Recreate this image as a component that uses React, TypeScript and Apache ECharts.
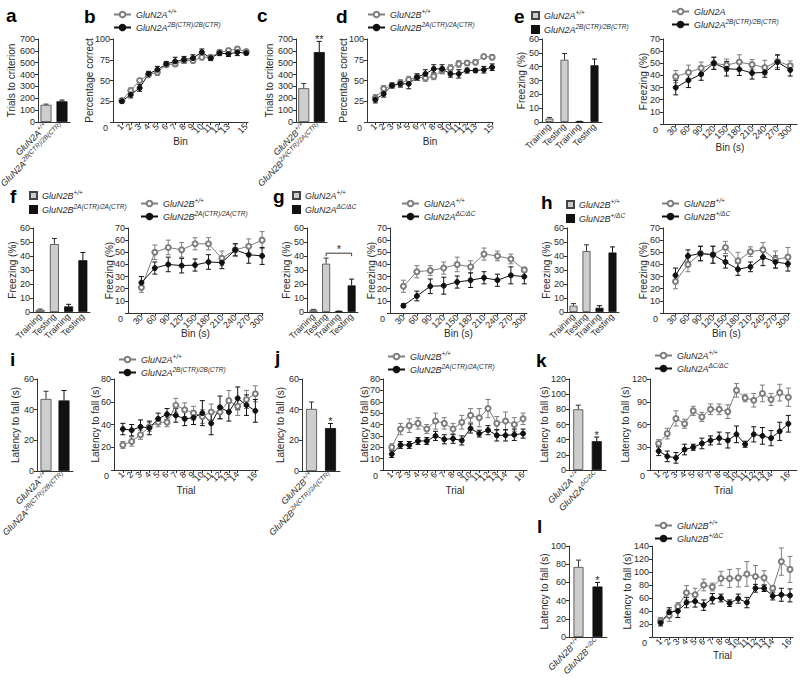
import React, { useEffect, useRef } from 'react';
import * as echarts from 'echarts';

const FONT = '"Liberation Sans", Arial, Helvetica, sans-serif';

// ---------------- DATA ----------------
// a
const aCategories = ['GluN2A^+/+', 'GluN2A^2B(CTR)/2B(CTR)'];
const aWT = [145];
const aWTErr = [6];
const aMut = [175];
const aMutErr = [10];

// b
const bBins = [1, 2, 3, 4, 5, 6, 7, 8, 9, 10, 11, 12, 13, 14, 15];
const bLabels = ['GluN2A^+/+', 'GluN2A^2B(CTR)/2B(CTR)'];
const bWT = [26, 38, 50, 57, 60, 69, 70, 74, 74, 78, 78, 84, 86, 88, 85];
const bWTErr = [2, 3, 2, 3, 4, 3, 3, 3, 3, 3, 3, 3, 2, 3, 2];
const bMut = [25, 33, 41, 58, 63, 70, 73, 75, 77, 84, 77, 83, 82, 84, 83];
const bMutErr = [2, 4, 4, 3, 4, 3, 5, 4, 4, 4, 3, 3, 3, 4, 2];

// c
const cCategories = ['GluN2B^+/+', 'GluN2B^2A(CTR)/2A(CTR)'];
const cWT = [285];
const cWTErr = [40];
const cMut = [590];
const cMutErr = [90];
const cSig = '**';

// d
const dBins = [1, 2, 3, 4, 5, 6, 7, 8, 9, 10, 11, 12, 13, 14, 15];
const dLabels = ['GluN2B^+/+', 'GluN2B^2A(CTR)/2A(CTR)'];
const dWT = [29, 40, 44, 47, 51, 54, 53, 55, 62, 65, 70, 71, 72, 79, 78];
const dWTErr = [4, 4, 3, 4, 4, 4, 4, 4, 4, 4, 4, 3, 3, 2, 3];
const dMut = [27, 34, 44, 46, 46, 54, 58, 64, 64, 58, 58, 62, 62, 63, 66];
const dMutErr = [4, 4, 3, 4, 6, 4, 5, 5, 5, 4, 5, 3, 2, 4, 4];

// e
const freezeCategories = ['Training', 'Testing', 'Training', 'Testing'];
const eBarLabels = ['GluN2A^+/+', 'GluN2A^2B(CTR)/2B(CTR)'];
const eBarWT = [2.5, 45];
const eBarWTErr = [0.8, 4.5];
const eBarMut = [0.3, 41];
const eBarMutErr = [0.2, 4.5];
const secBins = [30, 60, 90, 120, 150, 180, 210, 240, 270, 300];
const eLineLabels = ['GluN2A', 'GluN2A^2B(CTR)/2B(CTR)'];
const eWT = [39, 42.5, 46, 50, 48.5, 51, 49, 46.5, 51.5, 48];
const eWTErr = [5, 6, 5, 5, 5, 6, 4, 6, 5, 4];
const eMut = [30, 36, 41, 50, 45.5, 45, 42, 42.5, 51, 44.5];
const eMutErr = [6, 6, 5, 5, 6, 5, 5, 4, 6, 5];

// f
const fLabels = ['GluN2B^+/+', 'GluN2B^2A(CTR)/2A(CTR)'];
const fBarWT = [1.5, 48.5];
const fBarWTErr = [0.6, 4];
const fBarMut = [4, 37];
const fBarMutErr = [1.5, 5.5];
const fWT = [21, 50, 54, 52, 57, 57, 45, 52, 55, 60];
const fWTErr = [4, 6, 6, 6, 5, 5, 6, 5, 6, 7];
const fMut = [25, 37, 40, 39, 39.5, 42, 41.5, 52, 48, 47];
const fMutErr = [5, 5, 6, 6, 5, 6, 5, 5, 7, 7];

// g
const gLabels = ['GluN2A^+/+', 'GluN2A^ΔC/ΔC'];
const gBarWT = [1.5, 34.5];
const gBarWTErr = [0.4, 4];
const gBarMut = [0.5, 19];
const gBarMutErr = [0.2, 4.5];
const gBracket = { from: 1, to: 3, at: 42, text: '*' };
const gWT = [22, 34, 35, 37, 40, 38, 48.5, 47, 44.5, 35.5];
const gWTErr = [5, 5, 4, 5, 6, 5, 5, 4, 4, 2];
const gMut = [6, 14, 22, 22.5, 25.5, 27, 29, 27, 31, 30];
const gMutErr = [1.5, 4, 6, 7, 5, 6, 5, 5, 7, 6];

// h
const hLabels = ['GluN2B^+/+', 'GluN2B^+/ΔC'];
const hBarWT = [4.5, 43.5];
const hBarWTErr = [1.5, 4.5];
const hBarMut = [3, 42.5];
const hBarMutErr = [1.5, 4];
const hWT = [26, 40, 49, 48, 54, 43, 50.5, 52, 44, 46];
const hWTErr = [6, 6, 6, 7, 5, 7, 4, 6, 7, 8];
const hMut = [31, 47, 49, 48, 42, 36, 38, 46, 42, 40.5];
const hMutErr = [6, 5, 6, 7, 5, 5, 4, 7, 5, 6];

// i
const trials = [1, 2, 3, 4, 5, 6, 7, 8, 9, 10, 11, 12, 13, 14, 15, 16];
const iLabels = ['GluN2A^+/+', 'GluN2A^2B(CTR)/2B(CTR)'];
const iBarWT = [47];
const iBarWTErr = [5];
const iBarMut = [46];
const iBarMutErr = [6.5];
const iWT = [22, 25, 31, 38, 42, 42, 57, 53, 50, 47, 51, 51, 61, 56, 62, 67];
const iWTErr = [3, 4, 4, 4, 4, 4, 6, 6, 6, 6, 7, 6, 9, 8, 8, 7];
const iMut = [36, 35, 38, 37, 45, 49, 48, 45, 46, 50, 41, 55, 51, 63, 57, 52];
const iMutErr = [5, 5, 6, 6, 5, 5, 6, 6, 6, 11, 10, 10, 8, 10, 9, 10];

// j
const jLabels = ['GluN2B^+/+', 'GluN2B^2A(CTR)/2A(CTR)'];
const jBarWT = [40.5];
const jBarWTErr = [4.5];
const jBarMut = [28];
const jBarMutErr = [3];
const jSig = '*';
const jWT = [20, 36, 39, 41, 36, 43, 41, 36, 42, 48, 46, 54, 41, 43, 40, 45];
const jWTErr = [3, 5, 6, 5, 4, 7, 5, 5, 6, 6, 8, 8, 6, 8, 6, 5];
const jMut = [14, 22, 22, 25.5, 25.5, 30, 27, 27.5, 26, 36.5, 32, 35, 30.5, 30.5, 31, 32];
const jMutErr = [3, 3, 3, 3, 3, 4, 4, 4, 4, 4, 3, 4, 5, 5, 5, 4];

// k
const kLabels = ['GluN2A^+/+', 'GluN2A^ΔC/ΔC'];
const kBarWT = [80];
const kBarWTErr = [5.5];
const kBarMut = [38];
const kBarMutErr = [5.5];
const kSig = '*';
const kWT = [35, 48, 68, 61, 78, 70, 80, 80, 77, 105, 95, 92, 101, 93, 102, 96];
const kWTErr = [5, 7, 10, 6, 6, 6, 7, 7, 9, 9, 5, 9, 11, 8, 11, 12];
const kMut = [25, 18, 16, 27, 30, 35, 39, 42, 39, 47, 34, 47, 45, 42, 51, 61];
const kMutErr = [6, 7, 7, 7, 4, 7, 6, 8, 10, 11, 4, 10, 11, 10, 12, 11];

// l
const lLabels = ['GluN2B^+/+', 'GluN2B^+/ΔC'];
const lBarWT = [77];
const lBarWTErr = [7.5];
const lBarMut = [55.5];
const lBarMutErr = [4.5];
const lSig = '*';
const lWT = [25, 33, 47, 68, 65, 80, 77, 90, 90, 91, 97, 93, 91, 75, 116, 104];
const lWTErr = [5, 9, 6, 11, 10, 9, 6, 11, 14, 14, 19, 17, 11, 4, 21, 20];
const lMut = [22, 38, 40, 53, 55, 49, 59, 60, 52, 59, 53, 75, 75, 63, 65, 64];
const lMutErr = [5, 7, 10, 8, 9, 8, 8, 6, 5, 7, 8, 6, 5, 6, 10, 10];

// ---------------- STYLE ----------------
const WT_COLOR = '#7d7d7d';
const MUT_COLOR = '#111111';
const BAR_GRAY = '#cdcdcd';
const AXIS_COLOR = '#333333';
const TEXT = '#2a2a2a';

const RICH: any = {
  i: { fontStyle: 'italic', fontSize: 9, color: TEXT, fontFamily: FONT },
  s: { fontStyle: 'italic', fontSize: 6.5, color: TEXT, fontFamily: FONT, padding: [0, 0, 6, 0] },
  n: { fontSize: 9, color: TEXT, fontFamily: FONT },
  z: { fontSize: 9, color: TEXT, fontFamily: FONT, padding: [12, 2, 0, 0] },
};

function richLabel(label: string): string {
  if (!label.startsWith('GluN')) return `{n|${label}}`;
  const k = label.indexOf('^');
  if (k < 0) return `{i|${label}}`;
  return `{i|${label.slice(0, k)}}{s|${label.slice(k + 1)}}`;
}

const AX_LINE = { show: true, onZero: false, lineStyle: { color: AXIS_COLOR, width: 1 } };
const TICK = { show: true, length: 3, inside: false, lineStyle: { color: AXIS_COLOR, width: 1 } };

function buildOption() {
  const opt: any = {
    animation: false,
    backgroundColor: '#ffffff',
    textStyle: { fontFamily: FONT },
    grid: [],
    xAxis: [],
    yAxis: [],
    series: [],
    legend: [],
    graphic: [],
  };
  const legendText: Record<string, string> = {};

  const addGrid = (r: number[]) => {
    opt.grid.push({ left: r[0], top: r[1], width: r[2], height: r[3], containLabel: false, outerBoundsMode: 'none' });
    return opt.grid.length - 1;
  };

  const makeY = (gi: number, max: number, interval: number, name: string, gap: number, shiftZero: boolean) => ({
    type: 'value', gridIndex: gi, min: 0, max, interval,
    axisLine: AX_LINE, axisTick: TICK, splitLine: { show: false },
    axisLabel: {
      fontSize: 9, color: TEXT, margin: 3, fontFamily: FONT, showMinLabel: true, showMaxLabel: true,
      formatter: (v: number) => (shiftZero && v === 0 ? '{z|0}' : String(v)),
      rich: RICH,
    },
    name, nameLocation: 'middle', nameGap: gap, nameMoveOverlap: false,
    nameTextStyle: { fontSize: 10, color: TEXT, fontFamily: FONT },
  });

  const errorSeries = (gi: number, data: number[][], color: string, both: boolean) => ({
    type: 'custom', xAxisIndex: gi, yAxisIndex: gi, data, encode: { x: 0, y: 1 },
    z: 2, silent: true, clip: false,
    renderItem: (_p: any, api: any) => {
      const x = api.value(0), y = api.value(1), e = api.value(2);
      const hi = api.coord([x, y + e]);
      const lo = api.coord([x, both ? y - e : y]);
      const w = 2.5;
      const st = { stroke: color, lineWidth: 1 };
      const ch: any[] = [
        { type: 'line', shape: { x1: hi[0], y1: hi[1], x2: lo[0], y2: lo[1] }, style: st },
        { type: 'line', shape: { x1: hi[0] - w, y1: hi[1], x2: hi[0] + w, y2: hi[1] }, style: st },
      ];
      if (both) ch.push({ type: 'line', shape: { x1: lo[0] - w, y1: lo[1], x2: lo[0] + w, y2: lo[1] }, style: st });
      return { type: 'group', children: ch };
    },
  });

  const addLegend = (pos: number[], names: string[], isBar: boolean) => {
    opt.legend.push({
      left: pos[0], top: pos[1], orient: 'vertical', padding: 0,
      itemGap: isBar ? 3 : 2, itemWidth: isBar ? 7 : 17, itemHeight: isBar ? 7 : 7,
      icon: isBar ? 'rect' : undefined,
      data: names, selectedMode: false,
      formatter: (n: string) => legendText[n],
      textStyle: { fontSize: 9, color: TEXT, fontFamily: FONT, rich: RICH },
    });
  };

  const linePanel = (p: any) => {
    const gi = addGrid(p.rect);
    opt.xAxis.push({
      type: 'value', gridIndex: gi, min: 0, max: p.xMax,
      axisLine: AX_LINE, axisTick: { ...TICK, customValues: p.xs }, splitLine: { show: false },
      axisLabel: {
        customValues: p.xs, rotate: 45, fontSize: 9, color: TEXT, margin: 3, fontFamily: FONT,
        showMinLabel: true, showMaxLabel: true, hideOverlap: false,
      },
      name: p.xName, nameLocation: 'middle', nameGap: p.xGap, nameMoveOverlap: false,
      nameTextStyle: { fontSize: 10, color: TEXT, fontFamily: FONT },
    });
    opt.yAxis.push(makeY(gi, p.yMax, p.yInterval, p.yName, p.yGap, true));
    const groups = [
      { key: 'wt', vals: p.wt, errs: p.wtErr, color: WT_COLOR, symbol: 'emptyCircle', label: p.labels[0] },
      { key: 'mut', vals: p.mut, errs: p.mutErr, color: MUT_COLOR, symbol: 'circle', label: p.labels[1] },
    ];
    const names: string[] = [];
    for (const g of groups) {
      const name = `${p.id}_${g.key}`;
      names.push(name);
      legendText[name] = richLabel(g.label);
      opt.series.push({
        type: 'line', name, xAxisIndex: gi, yAxisIndex: gi,
        data: p.xs.map((x: number, i: number) => [x, g.vals[i]]),
        symbol: g.symbol, symbolSize: 5, showAllSymbol: true, clip: false,
        lineStyle: { color: g.color, width: 1 },
        itemStyle: { color: g.color, borderColor: g.color, borderWidth: 1 },
        z: 3,
      });
      opt.series.push(errorSeries(gi, p.xs.map((x: number, i: number) => [x, g.vals[i], g.errs[i]]), g.color, true));
    }
    addLegend(p.legendPos, names, false);
  };

  const barPanel = (p: any) => {
    const gi = addGrid(p.rect);
    opt.xAxis.push({
      type: 'category', gridIndex: gi, data: p.cats,
      axisLine: AX_LINE, axisTick: { show: false }, splitLine: { show: false },
      axisLabel: { interval: 0, rotate: 45, margin: 3, formatter: (v: string) => richLabel(v), rich: RICH },
    });
    opt.yAxis.push(makeY(gi, p.yMax, p.yInterval, p.yName, p.yGap, false));
    const n = p.wt.length;
    const wtName = `${p.id}_wt`;
    const mutName = `${p.id}_mut`;
    opt.series.push({
      type: 'bar', name: wtName, xAxisIndex: gi, yAxisIndex: gi,
      data: [...p.wt, ...p.mut.map(() => '-')], barWidth: p.barWidth, barGap: '-100%',
      itemStyle: { color: BAR_GRAY, borderColor: '#444', borderWidth: 0.8 }, z: 2,
    });
    opt.series.push({
      type: 'bar', name: mutName, xAxisIndex: gi, yAxisIndex: gi,
      data: [...p.wt.map(() => '-'), ...p.mut], barWidth: p.barWidth, barGap: '-100%',
      itemStyle: { color: MUT_COLOR, borderColor: '#111', borderWidth: 0.8 }, z: 2,
    });
    opt.series.push(errorSeries(gi, p.wt.map((v: number, i: number) => [i, v, p.wtErr[i]]), '#333', false));
    opt.series.push(errorSeries(gi, p.mut.map((v: number, i: number) => [n + i, v, p.mutErr[i]]), '#111', false));
    if (p.sig) {
      const last = p.mut.length - 1;
      opt.series.push({
        type: 'custom', xAxisIndex: gi, yAxisIndex: gi, silent: true, clip: false, z: 4,
        data: [[n + last, p.mut[last] + p.mutErr[last]]], encode: { x: 0, y: 1 },
        renderItem: (_pp: any, api: any) => {
          const c = api.coord([api.value(0), api.value(1)]);
          return {
            type: 'text', x: c[0], y: c[1] + 3,
            style: { text: p.sig, align: 'center', verticalAlign: 'bottom', fontSize: 11, fontFamily: FONT, fill: TEXT },
          };
        },
      });
    }
    if (p.bracket) {
      const b = p.bracket;
      opt.series.push({
        type: 'custom', xAxisIndex: gi, yAxisIndex: gi, silent: true, clip: false, z: 4,
        data: [[b.from, b.to, b.at]], encode: { x: [0, 1], y: 2 },
        renderItem: (_pp: any, api: any) => {
          const a = api.coord([api.value(0), api.value(2)]);
          const c = api.coord([api.value(1), api.value(2)]);
          const st = { stroke: '#333', lineWidth: 1, fill: 'none' };
          return {
            type: 'group', children: [
              { type: 'polyline', shape: { points: [[a[0], a[1] + 3], [a[0], a[1]], [c[0], c[1]], [c[0], c[1] + 3]] }, style: st },
              { type: 'text', x: (a[0] + c[0]) / 2, y: a[1] + 1, style: { text: b.text, align: 'center', verticalAlign: 'bottom', fontSize: 11, fontFamily: FONT, fill: TEXT } },
            ],
          };
        },
      });
    }
    legendText[wtName] = richLabel(p.labels ? p.labels[0] : '');
    legendText[mutName] = richLabel(p.labels ? p.labels[1] : '');
    if (p.legendPos) addLegend(p.legendPos, [wtName, mutName], true);
  };

  // ---- Row 1
  barPanel({ id: 'a', rect: [38, 39, 32, 83], cats: aCategories, wt: aWT, wtErr: aWTErr, mut: aMut, mutErr: aMutErr,
    yMax: 700, yInterval: 100, yName: 'Trials to criterion', yGap: 22, barWidth: 11 });
  linePanel({ id: 'b', rect: [113, 39, 135, 83], xs: bBins, xMax: 15.2, yMax: 100, yInterval: 25,
    yName: 'Percentage correct', yGap: 19, xName: 'Bin', xGap: 14, wt: bWT, wtErr: bWTErr, mut: bMut, mutErr: bMutErr,
    labels: bLabels, legendPos: [113, 8] });
  barPanel({ id: 'c', rect: [296, 39, 31, 83], cats: cCategories, wt: cWT, wtErr: cWTErr, mut: cMut, mutErr: cMutErr,
    yMax: 700, yInterval: 100, yName: 'Trials to criterion', yGap: 22, barWidth: 11, sig: cSig });
  linePanel({ id: 'd', rect: [367, 39, 126, 83], xs: dBins, xMax: 15.1, yMax: 100, yInterval: 25,
    yName: 'Percentage correct', yGap: 19, xName: 'Bin', xGap: 14, wt: dWT, wtErr: dWTErr, mut: dMut, mutErr: dMutErr,
    labels: dLabels, legendPos: [367, 8] });
  barPanel({ id: 'e', rect: [542, 39, 60, 83], cats: freezeCategories, wt: eBarWT, wtErr: eBarWTErr, mut: eBarMut, mutErr: eBarMutErr,
    yMax: 60, yInterval: 10, yName: 'Freezing (%)', yGap: 16, barWidth: 8, labels: eBarLabels, legendPos: [531, 9] });
  linePanel({ id: 'e2', rect: [663, 39, 134, 85], xs: secBins, xMax: 316, yMax: 70, yInterval: 10,
    yName: 'Freezing (%)', yGap: 15, xName: 'Bin (s)', xGap: 18, wt: eWT, wtErr: eWTErr, mut: eMut, mutErr: eMutErr,
    labels: eLineLabels, legendPos: [671, 7] });

  // ---- Row 2
  barPanel({ id: 'f', rect: [33, 228, 57, 84], cats: freezeCategories, wt: fBarWT, wtErr: fBarWTErr, mut: fBarMut, mutErr: fBarMutErr,
    yMax: 60, yInterval: 10, yName: 'Freezing (%)', yGap: 16, barWidth: 9, labels: fLabels, legendPos: [29, 189] });
  linePanel({ id: 'f2', rect: [128, 228, 135, 85], xs: secBins, xMax: 302, yMax: 70, yInterval: 10,
    yName: 'Freezing (%)', yGap: 14, xName: 'Bin (s)', xGap: 15, wt: fWT, wtErr: fWTErr, mut: fMut, mutErr: fMutErr,
    labels: fLabels, legendPos: [140, 197] });
  barPanel({ id: 'g', rect: [307, 228, 51, 84], cats: freezeCategories, wt: gBarWT, wtErr: gBarWTErr, mut: gBarMut, mutErr: gBarMutErr,
    yMax: 60, yInterval: 10, yName: 'Freezing (%)', yGap: 16, barWidth: 8, labels: gLabels, legendPos: [292, 189], bracket: gBracket });
  linePanel({ id: 'g2', rect: [390, 228, 137, 85], xs: secBins, xMax: 306, yMax: 70, yInterval: 10,
    yName: 'Freezing (%)', yGap: 14, xName: 'Bin (s)', xGap: 15, wt: gWT, wtErr: gWTErr, mut: gMut, mutErr: gMutErr,
    labels: gLabels, legendPos: [401, 197] });
  barPanel({ id: 'h', rect: [567, 228, 52, 84], cats: freezeCategories, wt: hBarWT, wtErr: hBarWTErr, mut: hBarMut, mutErr: hBarMutErr,
    yMax: 60, yInterval: 10, yName: 'Freezing (%)', yGap: 16, barWidth: 8, labels: hLabels, legendPos: [566, 198] });
  linePanel({ id: 'h2', rect: [663, 228, 127, 85], xs: secBins, xMax: 305, yMax: 70, yInterval: 10,
    yName: 'Freezing (%)', yGap: 15, xName: 'Bin (s)', xGap: 15, wt: hWT, wtErr: hWTErr, mut: hMut, mutErr: hMutErr,
    labels: hLabels, legendPos: [661, 197] });

  // ---- Row 3
  barPanel({ id: 'i', rect: [37, 379, 36, 92], cats: aCategories, wt: iBarWT, wtErr: iBarWTErr, mut: iBarMut, mutErr: iBarMutErr,
    yMax: 60, yInterval: 20, yName: 'Latency to fall (s)', yGap: 17, barWidth: 11 });
  linePanel({ id: 'i2', rect: [114, 379, 144, 91], xs: trials, xMax: 16.3, yMax: 80, yInterval: 20,
    yName: 'Latency to fall (s)', yGap: 14, xName: 'Trial', xGap: 15, wt: iWT, wtErr: iWTErr, mut: iMut, mutErr: iMutErr,
    labels: iLabels, legendPos: [118, 353] });
  barPanel({ id: 'j', rect: [302, 379, 38, 92], cats: cCategories, wt: jBarWT, wtErr: jBarWTErr, mut: jBarMut, mutErr: jBarMutErr,
    yMax: 60, yInterval: 20, yName: 'Latency to fall (s)', yGap: 17, barWidth: 11, sig: jSig });
  linePanel({ id: 'j2', rect: [383, 379, 144, 91], xs: trials, xMax: 16.45, yMax: 80, yInterval: 10,
    yName: 'Latency to fall (s)', yGap: 14, xName: 'Trial', xGap: 15, wt: jWT, wtErr: jWTErr, mut: jMut, mutErr: jMutErr,
    labels: jLabels, legendPos: [387, 350] });
  barPanel({ id: 'k', rect: [569, 379, 37, 91], cats: [kLabels[0], kLabels[1]], wt: kBarWT, wtErr: kBarWTErr, mut: kBarMut, mutErr: kBarMutErr,
    yMax: 120, yInterval: 20, yName: 'Latency to fall (s)', yGap: 20, barWidth: 10, sig: kSig });
  linePanel({ id: 'k2', rect: [650, 379, 147, 91], xs: trials, xMax: 17, yMax: 120, yInterval: 30,
    yName: 'Latency to fall (s)', yGap: 20, xName: 'Trial', xGap: 15, wt: kWT, wtErr: kWTErr, mut: kMut, mutErr: kMutErr,
    labels: kLabels, legendPos: [654, 349] });

  // ---- Row 4
  barPanel({ id: 'l', rect: [569, 546, 38, 91], cats: [lLabels[0], lLabels[1]], wt: lBarWT, wtErr: lBarWTErr, mut: lBarMut, mutErr: lBarMutErr,
    yMax: 100, yInterval: 20, yName: 'Latency to fall (s)', yGap: 20, barWidth: 10, sig: lSig });
  linePanel({ id: 'l2', rect: [652, 546, 141, 91], xs: trials, xMax: 16.35, yMax: 140, yInterval: 20,
    yName: 'Latency to fall (s)', yGap: 20, xName: 'Trial', xGap: 13, wt: lWT, wtErr: lWTErr, mut: lMut, mutErr: lMutErr,
    labels: lLabels, legendPos: [654, 519] });

  // ---- Panel letters
  const letters: [string, number, number][] = [
    ['a', 6, 22], ['b', 84, 23], ['c', 257, 22], ['d', 336, 23], ['e', 514, 23],
    ['f', 10, 203], ['g', 273, 203], ['h', 541, 209],
    ['i', 10, 366], ['j', 275, 364], ['k', 536, 367], ['l', 537, 533],
  ];
  for (const [t, x, base] of letters) {
    opt.graphic.push({
      type: 'text', x, y: base - 6.6, silent: true,
      style: { text: t, fontSize: 19, fontWeight: 'bold', fontFamily: FONT, fill: '#000', verticalAlign: 'middle', align: 'left' },
    });
  }

  return opt;
}

export default function App() {
  const ref = useRef<HTMLDivElement>(null);
  useEffect(() => {
    if (!ref.current) return;
    const chart = echarts.init(ref.current, null, { renderer: 'svg' });
    chart.setOption(buildOption());
    return () => chart.dispose();
  }, []);
  return (
    <div
      ref={ref}
      style={{ position: 'fixed', left: 0, top: 0, width: 800, height: 682, background: '#fff' }}
    />
  );
}
